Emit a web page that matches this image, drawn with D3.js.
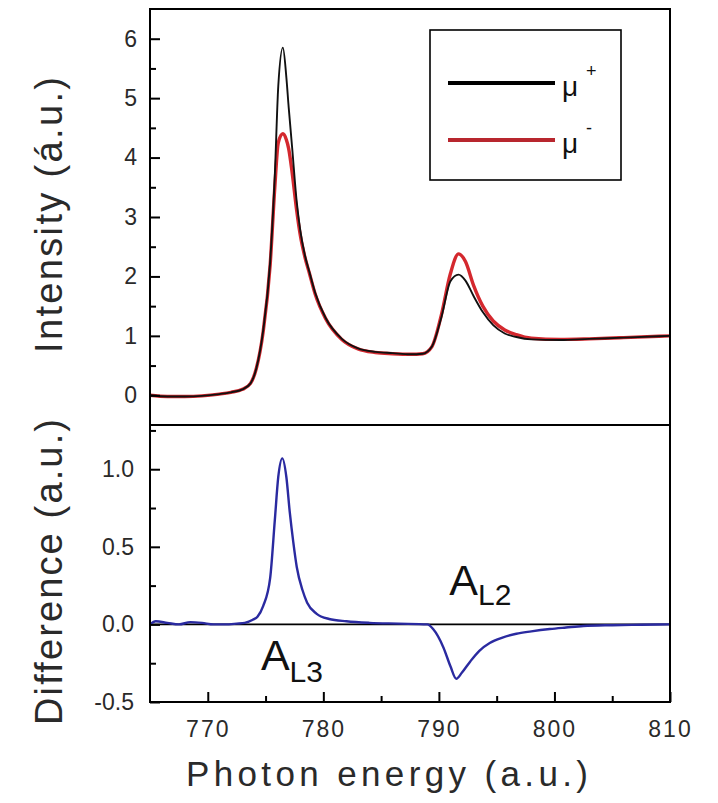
<!DOCTYPE html>
<html>
<head>
<meta charset="utf-8">
<script src="https://cdn.jsdelivr.net/npm/d3@7"></script>
<style>
  html, body { margin: 0; padding: 0; background: #fff; }
  svg { display: block; font-family: "Liberation Sans", Arial, Helvetica, sans-serif; }
</style>
</head>
<body>
<svg id="chart" width="718" height="803"></svg>
<script>
// Photon energy grid for the absorption spectra (denser around the L3 and L2 edges)
const energy = [765.0, 766.5, 768.0, 769.5, 771.0, 772.0, 773.0, 773.7, 774.2, 774.8,
  775.4, 775.8, 776.1, 776.5, 776.8, 777.0, 777.3, 777.7, 778.0, 778.4,
  778.8, 779.3, 780.2, 781.6, 783.0, 784.5, 786.0, 787.5, 788.6, 789.4,
  790.2, 791.0, 791.7, 792.3, 793.0, 793.8, 794.7, 795.7, 796.7, 798.0,
  800.5, 803.0, 806.0, 810.0];

// Absorption for the two helicities
const muPlus = [0.00, -0.02, -0.02, -0.01, 0.02, 0.05, 0.10, 0.20, 0.45, 1.10,
  2.25, 3.70, 5.20, 5.85, 5.35, 4.85, 4.17, 3.25, 2.78, 2.36,
  2.07, 1.72, 1.30, 0.95, 0.79, 0.73, 0.71, 0.69, 0.70, 0.82,
  1.30, 1.92, 2.03, 1.93, 1.67, 1.40, 1.18, 1.04, 0.98, 0.94,
  0.93, 0.95, 0.97, 1.00];
const muMinus = [0.00, -0.02, -0.02, -0.01, 0.02, 0.05, 0.10, 0.20, 0.45, 1.08,
  2.20, 3.50, 4.25, 4.40, 4.30, 4.15, 3.75, 3.10, 2.70, 2.33,
  2.05, 1.70, 1.29, 0.94, 0.78, 0.72, 0.70, 0.69, 0.70, 0.82,
  1.34, 2.05, 2.38, 2.25, 1.85, 1.50, 1.25, 1.10, 1.02, 0.96,
  0.94, 0.95, 0.97, 1.00];

// Dichroic difference spectrum
const diffEnergy = [765.0, 765.5, 766.5, 767.5, 768.5, 769.5, 770.5, 771.5, 772.5, 773.2,
  773.9, 774.3, 774.8, 775.4, 775.8, 776.1, 776.45, 776.8, 777.1, 777.4,
  777.7, 778.2, 778.6, 779.4, 780.5, 782.0, 784.0, 786.5, 789.0, 789.5,
  790.4, 791.0, 791.5, 792.0, 792.7, 793.5, 794.4, 795.5, 796.7, 798.0,
  799.6, 801.0, 802.5, 805.0, 807.5, 810.0];
const diffValues = [0.00, 0.02, 0.01, 0.00, 0.015, 0.01, 0.00, 0.00, 0.005, 0.01,
  0.03, 0.05, 0.12, 0.30, 0.67, 0.95, 1.07, 0.95, 0.72, 0.53,
  0.37, 0.22, 0.14, 0.07, 0.035, 0.02, 0.01, 0.005, 0.00, -0.03,
  -0.15, -0.27, -0.35, -0.31, -0.24, -0.17, -0.12, -0.085, -0.06, -0.045,
  -0.03, -0.02, -0.01, -0.005, -0.002, 0.00];

// Axis ticks
const xTicks = [770, 780, 790, 800, 810];
const xMinor = [775, 785, 795, 805];
const topYTicks = [0, 1, 2, 3, 4, 5, 6];
const topYMinor = [0.5, 1.5, 2.5, 3.5, 4.5, 5.5];
const botYTicks = [-0.5, 0.0, 0.5, 1.0];
const botYMinor = [-0.25, 0.25, 0.75, 1.25];

// Series legend entries
const legendLabels = [
  { name: "μ", sup: "+", color: "#000000" },
  { name: "μ", sup: "-", color: "#b8262e" }
];

const textColor = "#2a2a2a";
const svg = d3.select("#chart");

const x = d3.scaleLinear().domain([765, 810]).range([150, 670]);
const yTop = d3.scaleLinear().domain([-0.5, 6.5]).range([425, 9]);
const yBot = d3.scaleLinear().domain([-0.5, 1.285]).range([702, 425]);

const [x0, x1] = x.range();

// ---- curves ----
const spectra = energy.map((e, i) => ({ e, p: muPlus[i], m: muMinus[i] }));
const lineP = d3.line().x(d => x(d.e)).y(d => yTop(d.p)).curve(d3.curveMonotoneX);
const lineM = d3.line().x(d => x(d.e)).y(d => yTop(d.m)).curve(d3.curveMonotoneX);

svg.append("path").datum(spectra).attr("d", lineM)
  .attr("fill", "none").attr("stroke", "#d4282e").attr("stroke-width", 3.4)
  .attr("stroke-linejoin", "round");
svg.append("path").datum(spectra).attr("d", lineP)
  .attr("fill", "none").attr("stroke", "#111").attr("stroke-width", 1.9)
  .attr("stroke-linejoin", "round");

// zero reference in the difference panel
svg.append("line")
  .attr("x1", x0).attr("x2", x1)
  .attr("y1", yBot(0)).attr("y2", yBot(0))
  .attr("stroke", "#000").attr("stroke-width", 1.6);

const diff = diffEnergy.map((e, i) => ({ e, v: diffValues[i] }));
svg.append("path").datum(diff)
  .attr("d", d3.line().x(d => x(d.e)).y(d => yBot(d.v)).curve(d3.curveMonotoneX))
  .attr("fill", "none").attr("stroke", "#2a2aa0").attr("stroke-width", 2.4)
  .attr("stroke-linejoin", "round");

// ---- frames ----
svg.append("rect")
  .attr("x", x0).attr("y", yTop.range()[1])
  .attr("width", x1 - x0).attr("height", yBot.range()[0] - yTop.range()[1])
  .attr("fill", "none").attr("stroke", "#000").attr("stroke-width", 2);
svg.append("line")
  .attr("x1", x0).attr("x2", x1)
  .attr("y1", yTop.range()[0]).attr("y2", yTop.range()[0])
  .attr("stroke", "#000").attr("stroke-width", 2);

// ---- axes (ticks point into the plot) ----
function styleAxis(g) {
  g.select(".domain").remove();
  g.selectAll(".tick line").attr("stroke", "#000").attr("stroke-width", 2);
  g.selectAll(".tick text")
    .attr("fill", textColor)
    .style("font-family", "'Liberation Sans', Arial, sans-serif")
    .style("font-size", "23px");
}

svg.append("g").attr("transform", `translate(${x0},0)`)
  .call(d3.axisLeft(yTop).tickValues(topYTicks).tickSize(-10).tickPadding(13)
    .tickFormat(d3.format("d")))
  .call(styleAxis);
svg.append("g").attr("transform", `translate(${x0},0)`)
  .call(d3.axisLeft(yTop).tickValues(topYMinor).tickSize(-6).tickFormat(""))
  .call(styleAxis);

svg.append("g").attr("transform", `translate(${x0},0)`)
  .call(d3.axisLeft(yBot).tickValues(botYTicks).tickSize(-10).tickPadding(16)
    .tickFormat(d => d.toFixed(1)))
  .call(styleAxis);
svg.append("g").attr("transform", `translate(${x0},0)`)
  .call(d3.axisLeft(yBot).tickValues(botYMinor).tickSize(-6).tickFormat(""))
  .call(styleAxis);

const yAxisBottom = yBot.range()[0];
svg.append("g").attr("transform", `translate(0,${yAxisBottom})`)
  .call(d3.axisBottom(x).tickValues(xTicks).tickSize(-10).tickFormat(d3.format("d")))
  .call(styleAxis)
  .call(g => g.selectAll(".tick text").attr("y", 35).attr("dy", null)
    .style("letter-spacing", "2px"));
svg.append("g").attr("transform", `translate(0,${yAxisBottom})`)
  .call(d3.axisBottom(x).tickValues(xMinor).tickSize(-6).tickFormat(""))
  .call(styleAxis);

// ---- axis titles ----
svg.append("text")
  .attr("x", 387).attr("y", 786)
  .attr("text-anchor", "middle")
  .attr("font-size", 35).attr("fill", textColor)
  .attr("textLength", 402).attr("lengthAdjust", "spacing")
  .text("Photon energy (a.u.)");

svg.append("text")
  .attr("transform", "translate(62,215) rotate(-90)")
  .attr("text-anchor", "middle")
  .attr("font-size", 38).attr("fill", textColor)
  .attr("textLength", 276).attr("lengthAdjust", "spacing")
  .text("Intensity (á.u.)");

svg.append("text")
  .attr("transform", "translate(62,572) rotate(-90)")
  .attr("text-anchor", "middle")
  .attr("font-size", 38).attr("fill", textColor)
  .attr("textLength", 306).attr("lengthAdjust", "spacing")
  .text("Difference (a.u.)");

// ---- edge annotations ----
function edgeLabel(px, py, sub, subDy) {
  const t = svg.append("text").attr("x", px).attr("y", py)
    .attr("font-size", 43).attr("fill", "#111");
  t.append("tspan").text("A");
  t.append("tspan").attr("dy", subDy).attr("font-size", 30).text(sub);
}
edgeLabel(x(774.6), 670, "L3", 12);
edgeLabel(x(790.9), 595, "L2", 10);

// ---- legend ----
const legend = svg.append("g");
legend.append("rect")
  .attr("x", 430).attr("y", 30).attr("width", 191).attr("height", 150)
  .attr("fill", "#fff").attr("stroke", "#000").attr("stroke-width", 1.6);
legendLabels.forEach((d, i) => {
  const ly = 83 + i * 57;
  legend.append("line")
    .attr("x1", 448).attr("x2", 555).attr("y1", ly).attr("y2", ly)
    .attr("stroke", d.color).attr("stroke-width", 4);
  legend.append("text")
    .attr("x", 562).attr("y", ly + 13)
    .attr("font-size", 28).attr("fill", "#111")
    .text(d.name);
  legend.append("text")
    .attr("x", 586).attr("y", ly - 6)
    .attr("font-size", 18).attr("fill", "#111")
    .text(d.sup);
});
</script>
</body>
</html>
